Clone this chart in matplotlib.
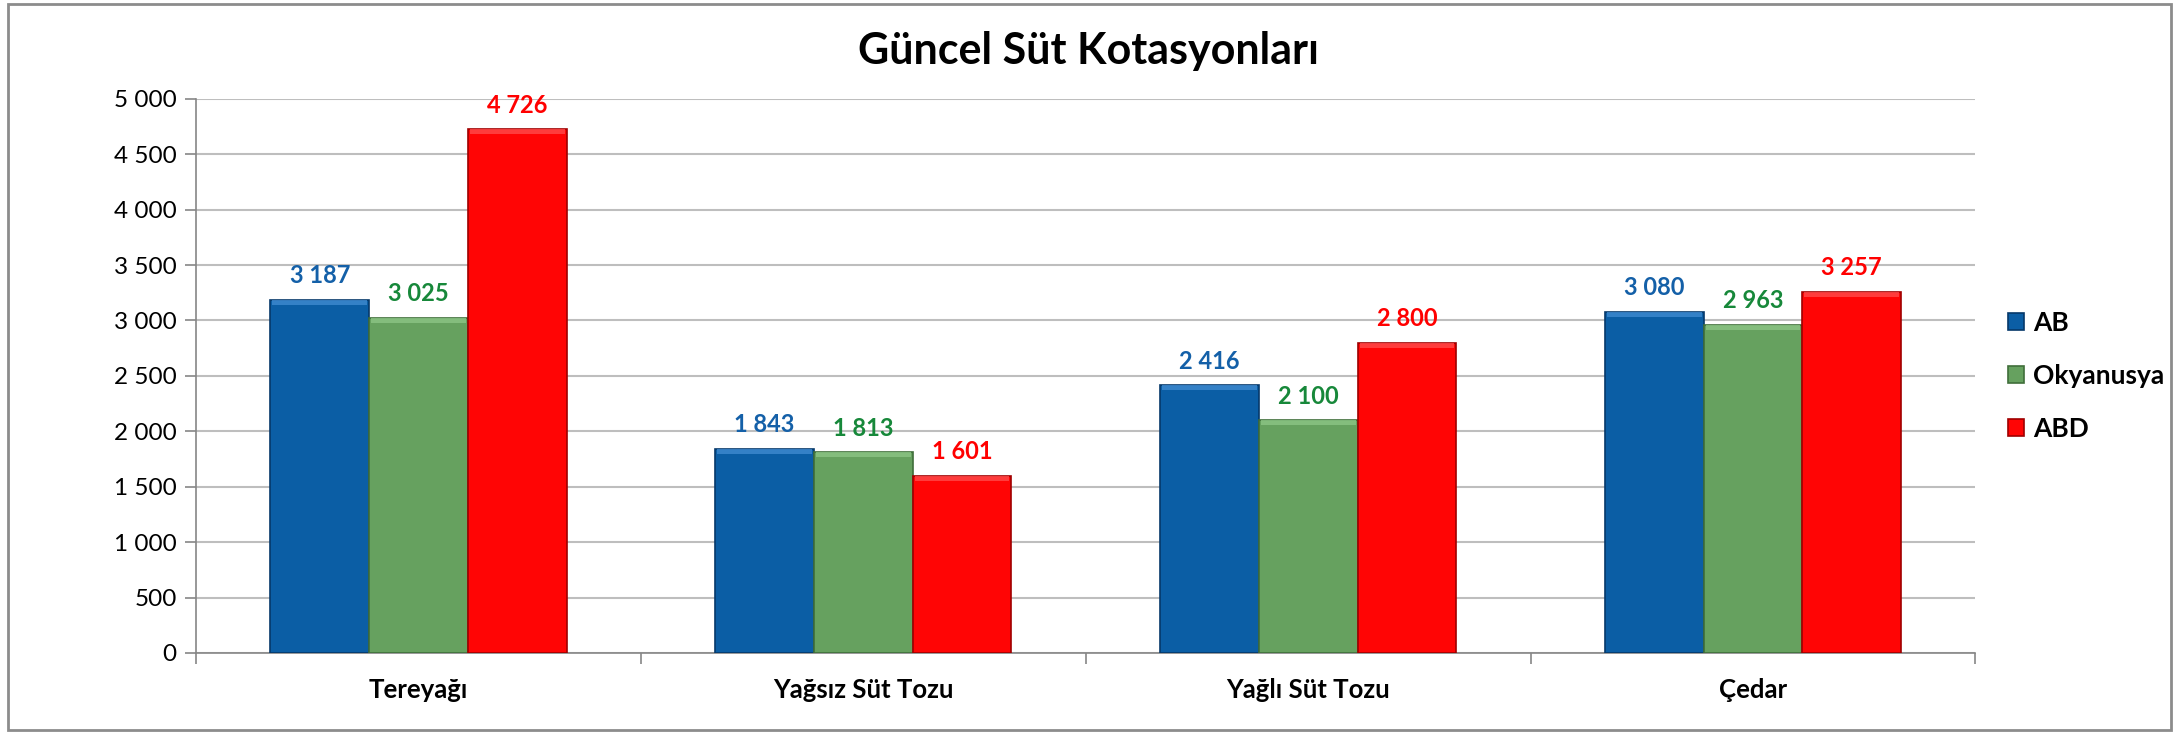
import numpy as np
import matplotlib.pyplot as plt
from matplotlib.patches import Rectangle

plt.rcParams['font.family'] = ['Lato', 'DejaVu Sans']

categories = ["Tereyağı", "Yağsız Süt Tozu", "Yağlı Süt Tozu", "Çedar"]
series_names = ["AB", "Okyanusya", "ABD"]
ab = [3187, 1843, 2416, 3080]
okyanusya = [3025, 1813, 2100, 2963]
abd = [4726, 1601, 2800, 3257]
yticks = [0, 500, 1000, 1500, 2000, 2500, 3000, 3500, 4000, 4500, 5000]

bar_colors = ["#0B5EA5", "#66A15F", "#FF0505"]
bevel_colors = ["#3F8AD0", "#8CC585", "#FF4A4A"]
edge_colors = ["#06386A", "#3F6E3A", "#A00000"]
label_colors = ["#1460A8", "#17883A", "#FF0000"]

fig = plt.figure(figsize=(21.78, 7.32), dpi=100)
ax = fig.add_axes([0.090, 0.108, 0.817, 0.757])

x = np.arange(len(categories))
w = 0.222
bevel = 45  # height of the lighter top edge, in data units
for i, vals in enumerate([ab, okyanusya, abd]):
    pos = x + (i - 1) * w
    ax.bar(pos, vals, width=w, color=bar_colors[i], edgecolor=edge_colors[i],
           linewidth=1.2, label=series_names[i], zorder=3)
    ax.bar(pos, bevel, bottom=np.array(vals) - bevel, width=w * 0.96,
           color=bevel_colors[i], linewidth=0, alpha=0.8, zorder=4)
    for px, v in zip(pos, vals):
        ax.annotate(f"{v:,}".replace(",", " "), (px, v), xytext=(0, 9),
                    textcoords="offset points", ha="center", va="bottom",
                    fontsize=17, fontweight="bold", color=label_colors[i])

ax.set_xlim(-0.5, len(categories) - 0.5)
ax.set_ylim(0, 5000)
ax.set_yticks(yticks)
ax.set_yticklabels([f"{t:,}".replace(",", " ") for t in yticks], fontsize=17.5)
ax.set_xticks(x)
ax.set_xticklabels(categories, fontsize=18.5, fontweight="bold")
ax.tick_params(axis="x", length=0, pad=18)
ax.set_xticks(np.arange(-0.5, len(categories) + 0.5, 1), minor=True)
ax.tick_params(axis="x", which="minor", length=8, color="#868686", width=1.2)
ax.tick_params(axis="y", length=8, color="#868686", width=1.2, pad=6)

ax.grid(axis="y", color="#BEBEBE", linewidth=1.5, zorder=0)
for s in ["top", "right"]:
    ax.spines[s].set_visible(False)
for s in ["left", "bottom"]:
    ax.spines[s].set_color("#868686")
    ax.spines[s].set_linewidth(1.2)

handles, labels = ax.get_legend_handles_labels()
leg = ax.legend(handles[:3], labels[:3], loc="center left", bbox_to_anchor=(1.005, 0.5),
                frameon=False, prop={"size": 19, "weight": "bold"}, handlelength=0.6,
                handleheight=0.6, labelspacing=1.1, handletextpad=0.35)

fig.suptitle("Güncel Süt Kotasyonları", x=0.5, y=0.958, fontsize=31,
             fontweight="bold")

fig.patches.append(Rectangle((0.0035, 0.003), 0.9935, 0.992, transform=fig.transFigure,
                             fill=False, edgecolor="#8C8C8C", linewidth=2))

fig.savefig("out.png", dpi=100)
